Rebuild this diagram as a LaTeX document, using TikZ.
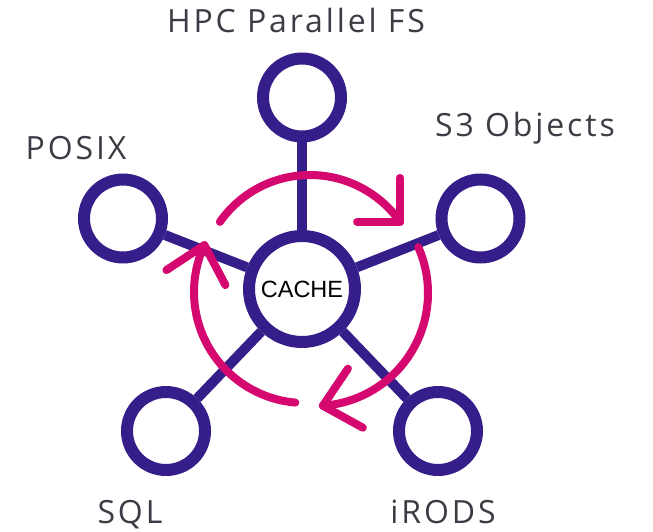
\documentclass[tikz,border=0pt]{standalone}
\usepackage{fontspec}
\setmainfont{Liberation Sans}
\newfontfamily\labfont[LetterSpace=9]{Open Sans}
\definecolor{hubpurple}{HTML}{361E8A}
\definecolor{flowpink}{HTML}{D4086F}
\definecolor{labgray}{HTML}{3C3C44}
\begin{document}
\begin{tikzpicture}[x=1pt,y=1pt,
  hub/.style={circle,draw=hubpurple,line width=12pt,fill=white,inner sep=0pt,minimum size=78pt},
  cachehub/.style={hub,minimum size=106pt,font=\fontsize{23.5}{26}\selectfont,text=black},
  spoke/.style={draw=hubpurple,line width=10pt},
  flow/.style={draw=flowpink,line width=8pt,line cap=round,line join=round},
  lab/.style={anchor=base,text=labgray,font=\labfont\fontsize{32}{38}\selectfont,inner sep=0pt}]
\useasboundingbox (0,0) rectangle (653,531);
% hubs
\node[cachehub] (cache) at (302,242) {CACHE};
\node[hub] (hpc) at (302,433.5) {};
\node[hub] (posix) at (123,312.5) {};
\node[hub] (s3) at (480.5,312.5) {};
\node[hub] (sql) at (166,100) {};
\node[hub] (irods) at (438,100) {};
% spokes
\draw[spoke] (cache) -- (hpc);
\draw[spoke] (cache) -- (posix);
\draw[spoke] (cache) -- (s3);
\draw[spoke] (cache) -- (sql);
\draw[spoke] (cache) -- (irods);
% circulating arrows
\coordinate (ctop) at (310,246);
\coordinate (cleft) at (305,239);
\coordinate (cright) at (315,238);
\draw[flow] (ctop) ++(145:110) arc[start angle=145,end angle=35,radius=110] coordinate (t1);
\draw[flow] ([shift={(0,44)}]t1) -- (t1) -- ([shift={(-43,0)}]t1);
\draw[flow] (cleft) ++(265:111) arc[start angle=265,end angle=155,radius=111] coordinate (t2);
\draw[flow] ([shift={(-38,-25)}]t2) -- (t2) -- ([shift={(21,-40)}]t2);
\draw[flow] (cright) ++(24:113) arc[start angle=24,end angle=-86,radius=113] coordinate (t3);
\draw[flow] ([shift={(25,37)}]t3) -- (t3) -- ([shift={(40,-22)}]t3);
% labels
\node[lab] (lhpc) at (296,498) {HPC Parallel FS};
\node[lab] (ls3) at (525,394) {S3 Objects};
\node[lab] (lposix) at (76,371) {POSIX};
\node[lab] (lsql) at (130,8) {SQL};
\node[lab] (lirods) at (443,8) {iRODS};
\end{tikzpicture}
\end{document}
